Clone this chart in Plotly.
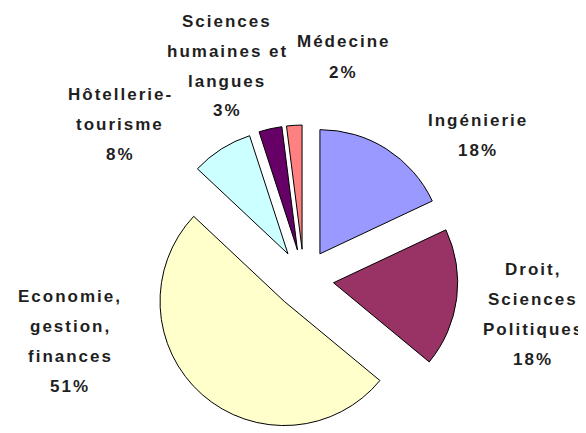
import plotly.graph_objects as go

# ---- data ----
categories = ["Ingénierie", "Droit, Sciences Politiques", "Economie, gestion, finances",
              "Hôtellerie-tourisme", "Sciences humaines et langues", "Médecine"]
label_lines = [["Ingénierie"],
               ["Droit,", "Sciences", "Politiques"],
               ["Economie,", "gestion,", "finances"],
               ["Hôtellerie-", "tourisme"],
               ["Sciences", "humaines et", "langues"],
               ["Médecine"]]
shares = [18, 18, 51, 8, 3, 2]

# ---- style / layout ----
colors = ["#9999FF", "#993366", "#FFFFCC", "#CCFFFF", "#660066", "#FF8080"]
# The page body has an 8px default margin, so the figure is sized to the
# remaining visible area and positions are given in window pixels minus 8.
OFF = 8
W, H = 586 - OFF, 433 - OFF
# label block centres (window pixels from top-left) and line pitch
label_centers = [(478, 135), (533, 314), (70, 341), (120, 124), (227, 66), (343, 57)]
line_pitch = 30
font = dict(family="Arial, Liberation Sans", size=17, color="#1f1f1f")

fig = go.Figure(go.Pie(
    labels=categories,
    values=shares,
    textinfo="none",
    sort=False,
    direction="clockwise",
    rotation=0,
    pull=[0.24] * len(shares),
    marker=dict(colors=colors, line=dict(color="#000000", width=1)),
    domain=dict(x=[0.162, 0.862], y=[0.0, 0.7247]),
    showlegend=False,
    hoverinfo="label+percent",
))

total = sum(shares)
annotations = []
for lines, val, (cx, cy) in zip(label_lines, shares, label_centers):
    all_lines = lines + [f"{round(100 * val / total)}%"]
    n = len(all_lines)
    for i, txt in enumerate(all_lines):
        py = cy + (i - (n - 1) / 2) * line_pitch
        annotations.append(dict(
            x=(cx - OFF) / W, y=1 - (py - OFF) / H, xref="paper", yref="paper",
            text=f"<b><span style='letter-spacing:2px'>{txt}</span></b>",
            showarrow=False, xanchor="center", yanchor="middle",
            font=font,
        ))

fig.update_layout(
    width=W, height=H,
    margin=dict(l=0, r=0, t=0, b=0),
    paper_bgcolor="white",
    plot_bgcolor="white",
    annotations=annotations,
)

fig.write_html("out.html")
